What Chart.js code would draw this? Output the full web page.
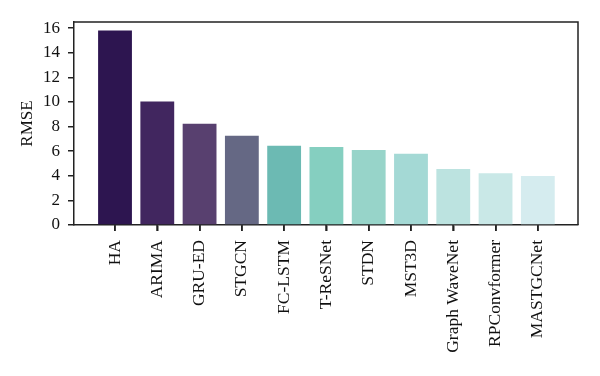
<!DOCTYPE html>
<html>
<head>
<meta charset="utf-8">
<script src="https://cdn.jsdelivr.net/npm/chart.js@4.4.1/dist/chart.umd.min.js"></script>
<style>
  html, body { margin: 0; padding: 0; background: #fff; }
  #wrap { width: 600px; height: 376px; }
</style>
</head>
<body>
<div id="wrap"><canvas id="myChart"></canvas></div>
<script>
// Model names and RMSE
const models = ['HA', 'ARIMA', 'GRU-ED', 'STGCN', 'FC-LSTM', 'T-ReSNet', 'STDN', 'MST3D', 'Graph WaveNet', 'RPConvformer', 'MASTGCNet'];
const rmse = [15.8, 10.03, 8.22, 7.25, 6.45, 6.33, 6.1, 5.8, 4.55, 4.2, 3.98];
const barColors = ['#2d1550', '#41265f', '#58406f', '#656884', '#6cbab3', '#85cfc0', '#97d4c9', '#a4d9d5', '#bce3e0', '#c9e8e7', '#d5ecef'];
const yTicks = [0, 2, 4, 6, 8, 10, 12, 14, 16];

const serif = '"Liberation Serif", "DejaVu Serif", serif';

// top and right sides of the frame, plus the x tick marks
const frame = {
    id: 'frame',
    afterDraw(chart) {
        const {ctx, chartArea: a} = chart;
        const xs = chart.scales.x;
        ctx.save();
        ctx.strokeStyle = '#222';
        ctx.lineWidth = 1.5;
        ctx.beginPath();
        ctx.moveTo(a.left, a.top);
        ctx.lineTo(a.right, a.top);
        ctx.lineTo(a.right, a.bottom);
        xs.ticks.forEach((t, i) => {
            const px = Math.round(xs.getPixelForTick(i));
            ctx.moveTo(px, a.bottom);
            ctx.lineTo(px, a.bottom + 6);
        });
        ctx.stroke();
        ctx.restore();
    }
};

new Chart(document.getElementById('myChart'), {
    type: 'bar',
    data: {
        datasets: [{
            data: rmse.map((v, i) => ({x: i, y: v})),
            backgroundColor: barColors,
            borderWidth: 0,
            barPercentage: 0.8,
            categoryPercentage: 1
        }]
    },
    options: {
        responsive: true,
        maintainAspectRatio: false,
        animation: false,
        layout: {padding: {left: 0, right: 22, top: 22, bottom: 0}},
        plugins: {legend: {display: false}, tooltip: {enabled: false}},
        scales: {
            x: {
                type: 'linear',
                offset: false,
                min: -0.97,
                max: 10.95,
                afterBuildTicks: (scale) => { scale.ticks = models.map((m, i) => ({value: i})); },
                afterFit: (scale) => { scale.height = 151; },
                ticks: {
                    color: '#111',
                    font: {family: serif, size: 17.5},
                    autoSkip: false,
                    minRotation: 90,
                    maxRotation: 90,
                    padding: 9,
                    callback: (v) => models[v]
                },
                grid: {offset: false, drawOnChartArea: false, drawTicks: true, tickLength: 6, color: '#222', lineWidth: 1.5},
                border: {display: true, color: '#222', width: 1.5}
            },
            y: {
                min: 0,
                max: 16.5,
                afterBuildTicks: (scale) => { scale.ticks = yTicks.map(v => ({value: v})); },
                afterFit: (scale) => { scale.width = 74; },
                ticks: {color: '#111', font: {family: serif, size: 17}, padding: 8},
                grid: {drawOnChartArea: false, drawTicks: true, tickLength: 6, color: '#222', lineWidth: 1.5},
                border: {display: true, color: '#222', width: 1.5},
                title: {display: true, text: 'RMSE', color: '#111', font: {family: serif, size: 17}, padding: {top: 17, bottom: 0}}
            }
        }
    },
    plugins: [frame]
});
</script>
</body>
</html>
